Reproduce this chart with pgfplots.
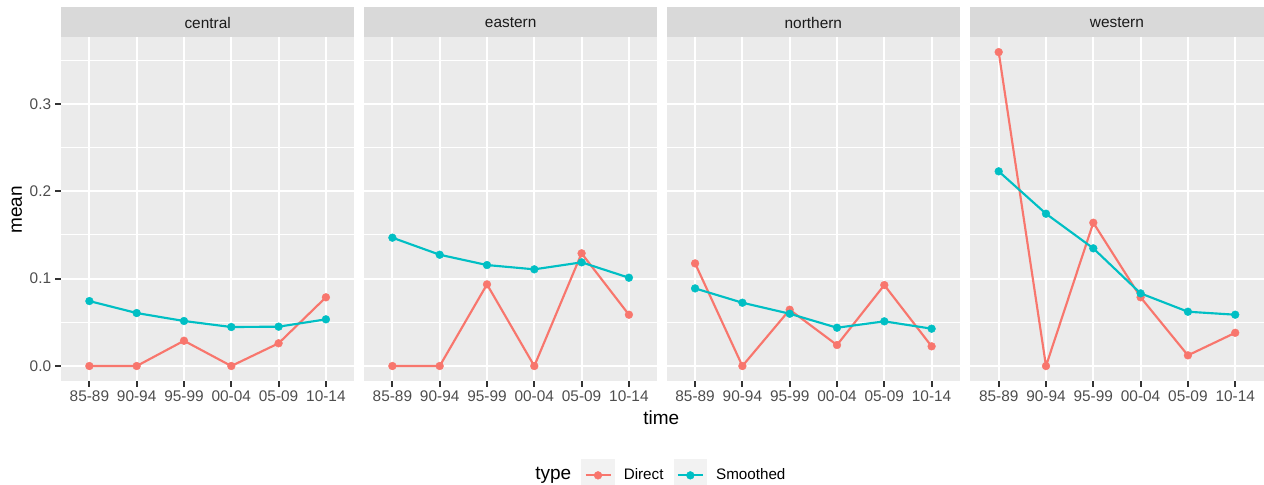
\documentclass[border=0pt]{standalone}
\usepackage{fontspec}
\setmainfont{Liberation Sans}
\usepackage{pgfplots}
\usepackage{pgfplotstable}
\pgfplotsset{compat=1.18}
\definecolor{dircol}{HTML}{F8766D}
\definecolor{smocol}{HTML}{00BFC4}
\definecolor{panelbg}{HTML}{EBEBEB}
\definecolor{stripbg}{HTML}{D9D9D9}
\definecolor{grey30}{HTML}{4D4D4D}
\definecolor{grey20}{HTML}{333333}
\definecolor{grey10}{HTML}{1A1A1A}
\definecolor{keybg}{HTML}{F2F2F2}

\pgfplotstableread{
x d s
1 0      0.0743
2 0      0.0606
3 0.0289 0.0515
4 0      0.0446
5 0.0260 0.0450
6 0.0786 0.0534
}\central
\pgfplotstableread{
x d s
1 0      0.1468
2 0      0.1273
3 0.0934 0.1155
4 0      0.1106
5 0.1289 0.1186
6 0.0587 0.1010
}\eastern
\pgfplotstableread{
x d s
1 0.1174 0.0888
2 0      0.0724
3 0.0644 0.0598
4 0.0240 0.0438
5 0.0926 0.0511
6 0.0225 0.0427
}\northern
\pgfplotstableread{
x d s
1 0.3591 0.2227
2 0      0.1742
3 0.1639 0.1346
4 0.0786 0.0831
5 0.0122 0.0621
6 0.0380 0.0587
}\western

\pgfplotsset{
  facet/.style={
    scale only axis, width=146.65pt, height=172.15pt,
    xmin=0.4, xmax=6.6, ymin=-0.01716, ymax=0.3767,
    xtick={1,2,3,4,5,6},
    xticklabels={85-89,90-94,95-99,00-04,05-09,10-14},
    ytick={0,0.1,0.2,0.3},
    minor ytick={0.05,0.15,0.25,0.35},
    grid=both,
    major grid style={white, line width=1.07pt},
    minor grid style={white, line width=0.53pt},
    axis background/.style={fill=panelbg},
    axis line style={draw=none},
    tick align=outside, major tick length=2.75pt, minor tick length=0pt,
    tick pos=left,
    every tick/.style={grey20, line width=1.07pt},
    tick label style={font=\fontsize{7.7}{9}\selectfont, text=grey30, inner sep=2pt},
    anchor=north west,
  },
  dline/.style={dircol, line width=1.07pt, forget plot},
  sline/.style={smocol, line width=1.07pt, forget plot},
  dpts/.style={dircol, only marks, mark=*, mark size=1.95pt, mark options={line width=0.2pt}, forget plot},
  spts/.style={smocol, only marks, mark=*, mark size=1.95pt, mark options={line width=0.2pt}, forget plot},
}

\begin{document}
\begin{tikzpicture}
\path[use as bounding box] (0,0) rectangle (632pt,-242pt);

\begin{axis}[facet, at={(30.5pt,-18.35pt)}, name=a1,
  yticklabels={0.0,0.1,0.2,0.3},
  legend image code/.code={
    \fill[keybg] (0pt,-7.875pt) rectangle (15.75pt,7.875pt);
    \draw[mark repeat=2,mark phase=2] plot coordinates {(1.625pt,0pt)(7.875pt,0pt)(14.125pt,0pt)};
  },
  legend style={at={(1.5864,-0.274)}, anchor=west, draw=none, fill=none,
    inner sep=0pt, outer sep=0pt, nodes={inner sep=0pt},
    font=\fontsize{7.6}{9}\selectfont, text=black,
    /tikz/every odd column/.append style={column sep=4.5pt},
    /tikz/every even column/.append style={column sep=5pt}},
  legend columns=3,
]
\addlegendimage{empty legend}
\addlegendentry{\fontsize{9.5}{11}\selectfont type}
\addlegendimage{dircol, line width=1.07pt, mark=*, mark size=1.95pt, mark options={line width=0.2pt}}
\addlegendentry{Direct}
\addlegendimage{smocol, line width=1.07pt, mark=*, mark size=1.95pt, mark options={line width=0.2pt}}
\addlegendentry{Smoothed}
\addplot[dline] table[x=x,y=d]{\central};
\addplot[sline] table[x=x,y=s]{\central};
\addplot[dpts] table[x=x,y=d]{\central};
\addplot[spts] table[x=x,y=s]{\central};
\end{axis}

\begin{axis}[facet, at={(182pt,-18.35pt)}, name=a2, yticklabels={}, ytick style={draw=none}]
\addplot[dline] table[x=x,y=d]{\eastern};
\addplot[sline] table[x=x,y=s]{\eastern};
\addplot[dpts] table[x=x,y=d]{\eastern};
\addplot[spts] table[x=x,y=s]{\eastern};
\end{axis}

\begin{axis}[facet, at={(333.35pt,-18.35pt)}, name=a3, yticklabels={}, ytick style={draw=none}]
\addplot[dline] table[x=x,y=d]{\northern};
\addplot[sline] table[x=x,y=s]{\northern};
\addplot[dpts] table[x=x,y=d]{\northern};
\addplot[spts] table[x=x,y=s]{\northern};
\end{axis}

\begin{axis}[facet, at={(485.15pt,-18.35pt)}, name=a4, yticklabels={}, ytick style={draw=none}]
\addplot[dline] table[x=x,y=d]{\western};
\addplot[sline] table[x=x,y=s]{\western};
\addplot[dpts] table[x=x,y=d]{\western};
\addplot[spts] table[x=x,y=s]{\western};
\end{axis}

\foreach \ax/\lab in {a1/central,a2/eastern,a3/northern,a4/western}{
  \fill[stripbg] (\ax.north west) rectangle ([yshift=14.85pt]\ax.north east);
  \node[font=\fontsize{7.7}{9}\selectfont, text=grey10, anchor=center]
    at ([yshift=7.1pt]\ax.north) {\lab};
}

\node[font=\fontsize{9.5}{11}\selectfont, rotate=90, anchor=center] at (8.4pt,-105pt) {mean};
\node[font=\fontsize{9.5}{11}\selectfont, anchor=base, inner sep=0pt] at (330.65pt,-212.15pt) {time};
\end{tikzpicture}
\end{document}
